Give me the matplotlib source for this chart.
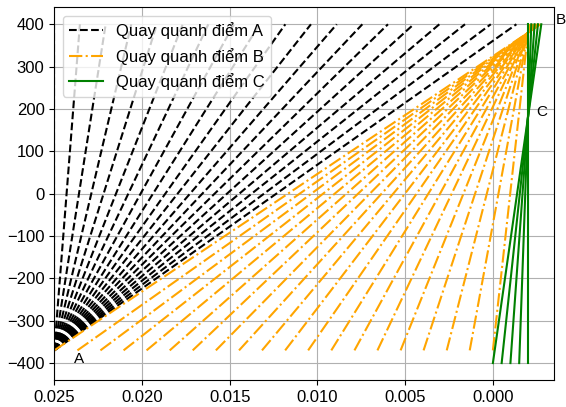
import matplotlib
matplotlib.use("Agg")
import matplotlib.pyplot as plt

plt.rcParams['font.family'] = ['Liberation Sans', 'DejaVu Sans']
plt.rcParams['font.size'] = 12

# pivot A: all black lines start here, go up to the top fibre
a_x, a_y = 0.025, -370
a_top_y = 400
a_top_x = [0.025, 0.02354, 0.02207, 0.02061, 0.01915, 0.01768, 0.01622,
           0.01476, 0.01329, 0.01183, 0.01037, 0.00890, 0.00744, 0.00598,
           0.00451, 0.00305, 0.00159, 0.00012, -0.00134]

# pivot B: orange lines from the steel level up through B to the top fibre
b_bot_y = -370
b_top_y = 400
b_bot_x = [0.025, 0.02368, 0.02237, 0.02105, 0.01974, 0.01842, 0.01711,
           0.01579, 0.01447, 0.01316, 0.01184, 0.01053, 0.00921, 0.00789,
           0.00658, 0.00526, 0.00395, 0.00263, 0.00132, 0.0]
b_top_x = [-0.00272, -0.002685, -0.00265, -0.002615, -0.00258, -0.002545,
           -0.00251, -0.002474, -0.002439, -0.002404, -0.002369, -0.002334,
           -0.002299, -0.002264, -0.002229, -0.002194, -0.002159, -0.002123,
           -0.002089, -0.002053]

# pivot C: green lines over the full height
c_bot_y = -400
c_top_y = 400
c_bot_x = [0.0, -0.0005, -0.001, -0.0015, -0.002]
c_top_x = [-0.002759, -0.002569, -0.002379, -0.00219, -0.002]

labels = ['Quay quanh điểm A', 'Quay quanh điểm B', 'Quay quanh điểm C']

fig = plt.figure(figsize=(5.66, 4.07), dpi=100)
ax = fig.add_axes([0.0959, 0.0663, 0.8834, 0.9157])

for i, xt in enumerate(a_top_x):
    ax.plot([a_x, xt], [a_y, a_top_y], '--', color='black',
            label=labels[0] if i == 0 else None)

for i in range(len(b_bot_x)):
    ax.plot([b_bot_x[i], b_top_x[i]], [b_bot_y, b_top_y], '-.', color='orange',
            label=labels[1] if i == 0 else None)

for i in range(len(c_bot_x)):
    ax.plot([c_bot_x[i], c_top_x[i]], [c_bot_y, c_top_y], '-', color='green',
            label=labels[2] if i == 0 else None)

ax.text(0.0239, -400, 'A', fontsize=11)
ax.text(-0.0036, 400, 'B', fontsize=11)
ax.text(-0.00247, 183, 'C', fontsize=11)

ax.set_xlim(0.025, -0.0035)
ax.set_ylim(-440, 440)
ax.grid(True)
ax.legend(loc='upper left')

fig.savefig('out.png', dpi=100)
